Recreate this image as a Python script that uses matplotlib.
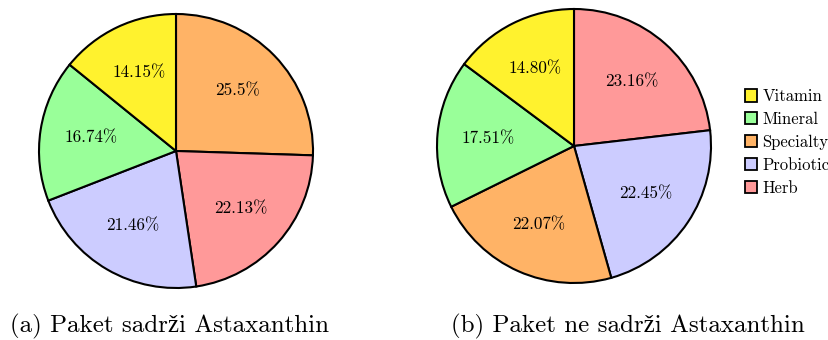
import numpy as np
import matplotlib.pyplot as plt
from matplotlib.patches import Patch

plt.rcParams['font.family'] = ['cmr10', 'Liberation Serif']
plt.rcParams['axes.formatter.use_mathtext'] = True

categories = ['Vitamin', 'Mineral', 'Specialty', 'Probiotic', 'Herb']
colors = {'Vitamin': '#fff22e', 'Mineral': '#99ff99', 'Specialty': '#ffb366',
          'Probiotic': '#ccccff', 'Herb': '#ff9999'}

# slices listed clockwise from 12 o'clock
with_astax_labels = ['Specialty', 'Herb', 'Probiotic', 'Mineral', 'Vitamin']
with_astax_values = [25.5, 22.13, 21.46, 16.74, 14.15]
with_astax_text = ['25.5%', '22.13%', '21.46%', '16.74%', '14.15%']

without_astax_labels = ['Herb', 'Probiotic', 'Specialty', 'Mineral', 'Vitamin']
without_astax_values = [23.16, 22.45, 22.07, 17.51, 14.80]
without_astax_text = ['23.16%', '22.45%', '22.07%', '17.51%', '14.80%']

captions = ['(a) Paket sadrži Astaxanthin', '(b) Paket ne sadrži Astaxanthin']

W, H = 829, 340
fig = plt.figure(figsize=(W / 100, H / 100), dpi=100)


def draw_pie(cx, cy, r, labels, values, texts):
    ax = fig.add_axes([(cx - r) / W, (H - cy - r) / H, 2 * r / W, 2 * r / H])
    wedges, _ = ax.pie(values, colors=[colors[l] for l in labels],
                       startangle=90, counterclock=False,
                       wedgeprops=dict(edgecolor='black', linewidth=1.5, clip_on=False))
    ax.set_xlim(-1, 1)
    ax.set_ylim(-1, 1)
    ax.set_axis_off()
    # percentage labels inside each wedge
    for w, t in zip(wedges, texts):
        ang = np.deg2rad((w.theta1 + w.theta2) / 2)
        ax.text(0.63 * np.cos(ang), 0.63 * np.sin(ang), t,
                ha='center', va='center', fontsize=12.3)
    return ax


draw_pie(176, 151, 137, with_astax_labels, with_astax_values, with_astax_text)
draw_pie(574, 146, 137, without_astax_labels, without_astax_values, without_astax_text)

fig.text(170 / W, 1 - 326 / H, captions[0], ha='center', va='center', fontsize=18)
fig.text(628 / W, 1 - 326 / H, captions[1], ha='center', va='center', fontsize=18)

handles = [Patch(facecolor=colors[c], edgecolor='black', linewidth=1.3) for c in categories]
fig.legend(handles, categories, loc='upper left', bbox_to_anchor=(745 / W, 1 - 89 / H),
           frameon=False, fontsize=12, handlelength=0.75, handleheight=0.75,
           handletextpad=0.3, labelspacing=0.45, borderpad=0, borderaxespad=0)

fig.savefig('out.png', dpi=100)
